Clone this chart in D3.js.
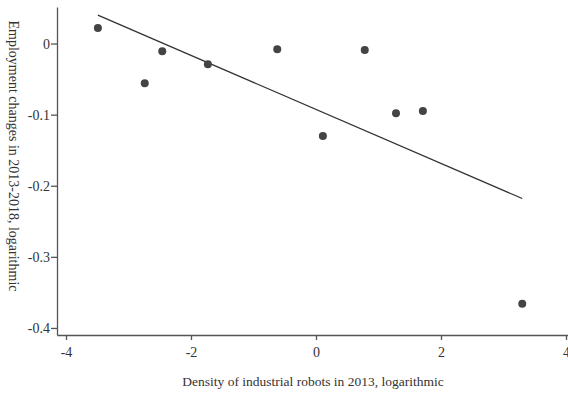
<!DOCTYPE html>
<html>
<head>
<meta charset="utf-8">
<script src="https://cdn.jsdelivr.net/npm/d3@7"></script>
<style>
  body { margin: 0; background: #fff; }
  .axis text { font-family: "Liberation Serif", serif; font-size: 14px; fill: #333; }
  .axis path, .axis line { stroke: #555; stroke-width: 1.3; }
  .title { font-family: "Liberation Serif", serif; font-size: 13.5px; fill: #333; }
</style>
</head>
<body>
<div id="chart"></div>
<script>
// robot density (log) per region, 2013
const robotDensity = [-3.49, -2.74, -2.46, -1.73, -0.62, 0.11, 0.78, 1.28, 1.71, 3.30];
// employment change (log), 2013-2018
const employmentChange = [0.022, -0.056, -0.011, -0.029, -0.008, -0.130, -0.009, -0.098, -0.095, -0.366];
const xTicks = [-4, -2, 0, 2, 4];
const yTicks = [0, -0.1, -0.2, -0.3, -0.4];

const width = 568;
const height = 393;
const plotLeft = 57, plotRight = 568, plotTop = 7, plotBottom = 335;

const points = robotDensity.map((x, i) => ({ x: x, y: employmentChange[i] }));

const xScale = d3.scaleLinear().domain([-4.144, 4.032]).range([plotLeft, plotRight]);
const yScale = d3.scaleLinear().domain([0.0514, -0.4099]).range([plotTop, plotBottom]);

const svg = d3.select('#chart')
  .append('svg')
  .attr('width', width)
  .attr('height', height);

const xAxis = d3.axisBottom(xScale)
  .tickValues(xTicks)
  .tickSize(5)
  .tickSizeOuter(0)
  .tickFormat(d => String(d));

svg.append('g')
  .attr('class', 'axis')
  .attr('transform', 'translate(0,' + plotBottom + ')')
  .call(xAxis)
  .call(g => g.selectAll('text').attr('dy', '1em'));

const yAxis = d3.axisLeft(yScale)
  .tickValues(yTicks)
  .tickSize(6)
  .tickSizeOuter(0)
  .tickFormat(d => (d === 0 ? '0' : d.toFixed(1)));

svg.append('g')
  .attr('class', 'axis')
  .attr('transform', 'translate(' + plotLeft + ',0)')
  .call(yAxis)
  .call(g => g.selectAll('text').attr('x', -7));

// OLS fit line
const mx = d3.mean(points, d => d.x);
const my = d3.mean(points, d => d.y);
const slope = d3.sum(points, d => (d.x - mx) * (d.y - my)) / d3.sum(points, d => (d.x - mx) * (d.x - mx));
const intercept = my - slope * mx;
const xExt = d3.extent(points, d => d.x);
const fit = xExt.map(x => ({ x: x, y: intercept + slope * x }));

svg.append('path')
  .datum(fit)
  .attr('fill', 'none')
  .attr('stroke', '#333')
  .attr('stroke-width', 1.3)
  .attr('d', d3.line().x(d => xScale(d.x)).y(d => yScale(d.y)));

svg.append('g')
  .selectAll('circle')
  .data(points)
  .join('circle')
  .attr('cx', d => xScale(d.x))
  .attr('cy', d => yScale(d.y))
  .attr('r', 4)
  .attr('fill', '#444');

svg.append('text')
  .attr('class', 'title')
  .attr('x', 313)
  .attr('y', 386)
  .attr('text-anchor', 'middle')
  .text('Density of industrial robots in 2013, logarithmic');

svg.append('text')
  .attr('class', 'title')
  .attr('transform', 'translate(9,156) rotate(90)')
  .attr('text-anchor', 'middle')
  .style('font-size', '14px')
  .text('Employment changes in 2013-2018, logarithmic');
</script>
</body>
</html>
